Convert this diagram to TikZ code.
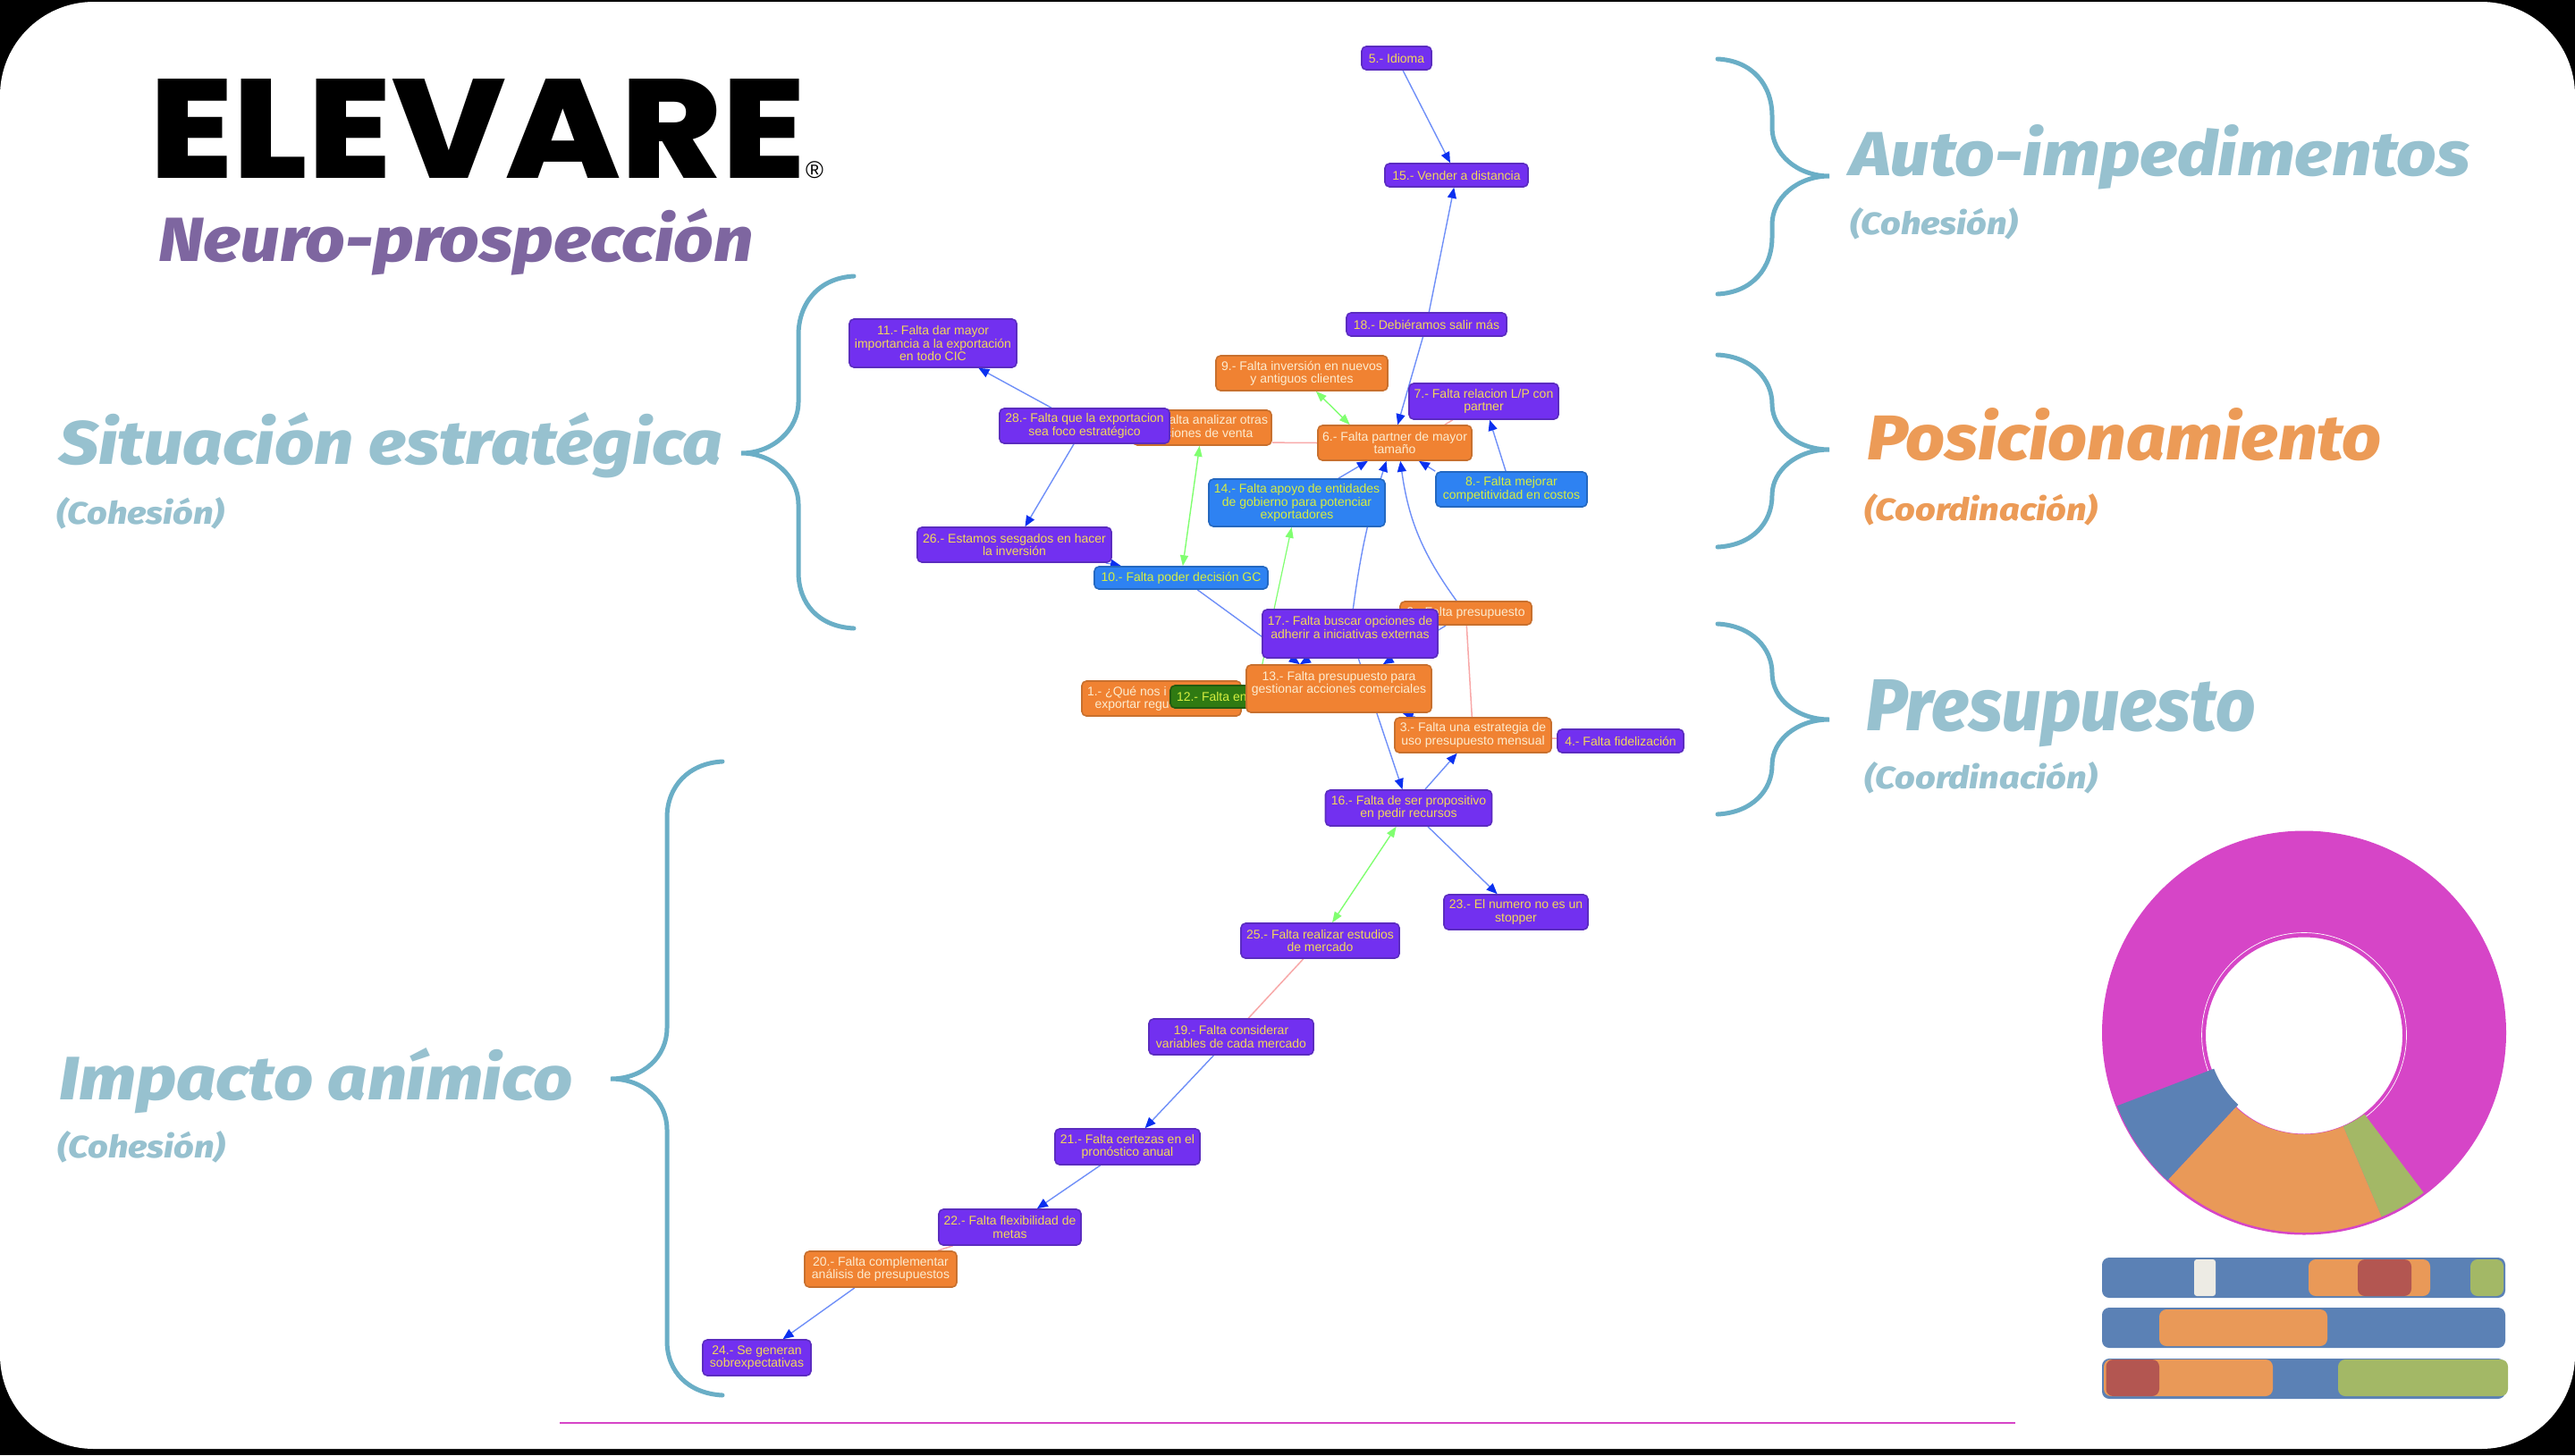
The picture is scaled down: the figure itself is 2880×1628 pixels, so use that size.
\documentclass[tikz,border=0pt]{standalone}
\usepackage{fontspec}
\usepackage{graphicx}
\setmainfont{Liberation Sans}
\newfontfamily\titfont{Fira Sans}[BoldItalicFont={* ExtraBold Italic}]
\newfontfamily\logofont{Poppins}[UprightFont=* ExtraBold]
\usetikzlibrary{arrows.meta, backgrounds}
\definecolor{moradof}{HTML}{7230F0}
\definecolor{moradol}{HTML}{5B2CC0}
\definecolor{moradot}{HTML}{F2D75A}
\definecolor{naranjaf}{HTML}{F08232}
\definecolor{naranjal}{HTML}{C8702E}
\definecolor{naranjat}{HTML}{FCEBCF}
\definecolor{azulf}{HTML}{2E82F2}
\definecolor{azull}{HTML}{2468C0}
\definecolor{azult}{HTML}{D6EE40}
\definecolor{verdef}{HTML}{2F7A12}
\definecolor{verdel}{HTML}{235A10}
\definecolor{lineaazul}{HTML}{6F8FF8}
\definecolor{puntaazul}{HTML}{0A30F0}
\definecolor{lineaverde}{HTML}{80FF70}
\definecolor{linearoja}{HTML}{F8A8A8}
\definecolor{llave}{HTML}{6AAEC6}
\definecolor{celeste}{HTML}{97C1CF}
\definecolor{naranjatit}{HTML}{EC9B57}
\definecolor{lila}{HTML}{7E66A0}
\definecolor{dona}{HTML}{D645C7}
\definecolor{secazul}{HTML}{5B81B5}
\definecolor{secnar}{HTML}{E99958}
\definecolor{secver}{HTML}{A3B866}
\definecolor{secroj}{HTML}{B35651}
\definecolor{secbla}{HTML}{EDEBE4}
\tikzstyle{caja}=[%
      rectangle, rounded corners=5pt, line width=1.6pt, inner sep=2pt, align=center,
      font=\fontsize{14}{14.4}\selectfont
]
\tikzstyle{mo}=[caja, draw=moradol, fill=moradof, text=moradot]
\tikzstyle{na}=[caja, draw=naranjal, fill=naranjaf, text=naranjat]
\tikzstyle{az}=[caja, draw=azull, fill=azulf, text=azult]
\tikzstyle{ve}=[caja, draw=verdel, fill=verdef, text=azult]
\tikzstyle{tit}=[anchor=base west, inner sep=0pt, font=\titfont\bfseries\itshape]
\tikzstyle{fl}=[draw=lineaazul, line width=1.4pt, -{Stealth[length=12pt,width=10pt,inset=0pt,color=puntaazul]}]
\tikzstyle{gr}=[draw=lineaverde, line width=1.4pt, {Stealth[length=12pt,width=9pt,inset=0pt,color=lineaverde]}-{Stealth[length=12pt,width=9pt,inset=0pt,color=lineaverde]}]
\tikzstyle{gs}=[draw=lineaverde, line width=1.2pt, -{Stealth[length=12pt,width=9pt,inset=0pt,color=lineaverde]}]
\tikzstyle{ro}=[draw=linearoja, line width=1.5pt]
\tikzstyle{llav}=[draw=llave, line width=5pt, line cap=round]
\tikzstyle{barra}=[rounded corners=8pt]
\begin{document}
\begin{tikzpicture}[x=1pt, y=-1pt]
    % fondo
    \begin{scope}[on background layer]
      \fill[black] (0,0) rectangle (2880,1628);
      \fill[white, rounded corners=105pt] (0,2) rectangle (2880,1621);
    \end{scope}

    % titulos
    \node[anchor=base west, inner sep=0pt] (logo) at (167,199) {\resizebox{733pt}{111pt}{\logofont ELEVARE}};
    \node[inner sep=0pt, font=\fontsize{27}{27}\selectfont] (marca) at (911,190) {®};
    \node[tit, text=lila] (neuro) at (177,292) {\resizebox{665pt}{59pt}{Neuro-prospección}};
    \node[tit, text=celeste] (auto) at (2069,196) {\resizebox{693pt}{57pt}{Auto-impedimentos}};
    \node[tit, text=celeste] (autoc) at (2069,262) {\resizebox{188pt}{30pt}{(Cohesión)}};
    \node[tit, text=naranjatit] (posi) at (2088,514) {\resizebox{575pt}{58pt}{Posicionamiento}};
    \node[tit, text=naranjatit] (posic) at (2085,582) {\resizebox{261pt}{30pt}{(Coordinación)}};
    \node[tit, text=celeste] (pres) at (2087,817) {\resizebox{435pt}{57pt}{Presupuesto}};
    \node[tit, text=celeste] (presc) at (2085,882) {\resizebox{261pt}{30pt}{(Coordinación)}};
    \node[tit, text=celeste] (situ) at (66,519) {\resizebox{742pt}{58pt}{Situación estratégica}};
    \node[tit, text=celeste] (situc) at (63,586) {\resizebox{188pt}{30pt}{(Cohesión)}};
    \node[tit, text=celeste] (impa) at (66,1230) {\resizebox{574pt}{58pt}{Impacto anímico}};
    \node[tit, text=celeste] (impac) at (64,1295) {\resizebox{188pt}{30pt}{(Cohesión)}};

    % llaves
    \draw[llav] (1921,66) .. controls (1960,68) and (1982,95) .. (1982,130) -- (1982,143) .. controls (1982,172) and (2010,197) .. (2046,197)
                .. controls (2010,197) and (1982,222) .. (1982,251) -- (1982,265) .. controls (1982,300) and (1960,327) .. (1921,329);
    \draw[llav] (1921,397) .. controls (1960,399) and (1982,425) .. (1982,452) .. controls (1982,480) and (2010,503) .. (2046,503)
                .. controls (2010,503) and (1982,526) .. (1982,554) .. controls (1982,585) and (1960,610) .. (1921,612);
    \draw[llav] (1921,698) .. controls (1960,700) and (1982,726) .. (1982,753) .. controls (1982,782) and (2010,805) .. (2046,805)
                .. controls (2010,805) and (1982,828) .. (1982,856) .. controls (1982,884) and (1960,909) .. (1921,911);
    \draw[llav] (955,309) .. controls (915,311) and (893,340) .. (893,375) -- (893,450) .. controls (893,480) and (865,507) .. (829,507)
                .. controls (865,507) and (893,534) .. (893,564) -- (893,640) .. controls (893,675) and (915,701) .. (955,703);
    \draw[llav] (808,852) .. controls (770,854) and (746,880) .. (746,915) -- (746,1150) .. controls (746,1182) and (720,1207) .. (683,1207)
                .. controls (720,1207) and (746,1232) .. (746,1264) -- (746,1500) .. controls (746,1535) and (770,1559) .. (808,1561);

    % nodos
    \node[mo, minimum width=78, minimum height=26] (n5) at (1562,65) {5.- Idioma};
    \node[mo, minimum width=160, minimum height=26] (n15) at (1629,196) {15.- Vender a distancia};
    \node[mo, minimum width=179, minimum height=26] (n18) at (1595.5,363) {18.- Debiéramos salir más};
    \node[mo, minimum width=187, minimum height=54] (n11) at (1043.5,384) {11.- Falta dar mayor\\importancia a la exportación\\en todo CIC};
    \node[na, minimum width=192, minimum height=39] (n9) at (1456,417.5) {9.- Falta inversión en nuevos\\y antiguos clientes};
    \node[mo, minimum width=167, minimum height=40] (n7) at (1659.5,449) {7.- Falta relacion L/P con\\partner};
    \node[na, minimum width=155, minimum height=39] (n27) at (1344.5,478.5) {27.- Falta analizar otras\\opciones de venta};
    \node[mo, minimum width=190, minimum height=39] (n28) at (1213,476.5) {28.- Falta que la exportacion\\sea foco estratégico};
    \node[na, minimum width=172, minimum height=39] (n6) at (1560,495.5) {6.- Falta partner de mayor\\tamaño};
    \node[az, minimum width=169, minimum height=39] (n8) at (1690.5,547.5) {8.- Falta mejorar\\competitividad en costos};
    \node[az, minimum width=197, minimum height=53] (n14) at (1450.5,562.5) {14.- Falta apoyo de entidades\\de gobierno para potenciar\\exportadores};
    \node[mo, minimum width=217, minimum height=39] (n26) at (1134.5,609.5) {26.- Estamos sesgados en hacer\\la inversión};
    \node[az, minimum width=194, minimum height=25] (n10) at (1321,646.5) {10.- Falta poder decisión GC};
    \node[na, minimum width=147, minimum height=26] (n2) at (1639.5,686) {2.- Falta presupuesto};
    \node[mo, minimum width=196, minimum height=54] (n17) at (1510,709) {17.- Falta buscar opciones de\\adherir a iniciativas externas\\\mbox{}};
    \node[na, minimum width=178, minimum height=39] (n1) at (1299,781.5) {\makebox[166pt][l]{1.- ¿Qué nos i}\\\makebox[149pt][l]{exportar regu}};
    \node[ve, minimum width=190, minimum height=25] (n12) at (1404,779.5) {\makebox[176pt][l]{12.- Falta en}};
    \node[na, minimum width=207, minimum height=53] (n13) at (1497.5,770.5) {13.- Falta presupuesto para\\gestionar acciones comerciales\\\mbox{}};
    \node[na, minimum width=175, minimum height=39] (n3) at (1647.5,822.5) {3.- Falta una estrategia de\\uso presupuesto mensual};
    \node[mo, minimum width=141, minimum height=26] (n4) at (1812.5,829) {4.- Falta fidelización};
    \node[mo, minimum width=186, minimum height=40] (n16) at (1575.5,904) {16.- Falta de ser propositivo\\en pedir recursos};
    \node[mo, minimum width=161, minimum height=39] (n23) at (1695.5,1020.5) {23.- El numero no es un\\stopper};
    \node[mo, minimum width=177, minimum height=39] (n25) at (1476.5,1052.5) {25.- Falta realizar estudios\\de mercado};
    \node[mo, minimum width=184, minimum height=40] (n19) at (1377,1160) {19.- Falta considerar\\variables de cada mercado};
    \node[mo, minimum width=162, minimum height=40] (n21) at (1261,1283) {21.- Falta certezas en el\\pronóstico anual};
    \node[mo, minimum width=159, minimum height=40] (n22) at (1129.5,1373) {22.- Falta flexibilidad de\\metas};
    \node[na, minimum width=170, minimum height=40] (n20) at (985,1420) {20.- Falta complementar\\análisis de presupuestos};
    \node[mo, minimum width=121, minimum height=40] (n24) at (846.5,1519) {24.- Se generan\\sobrexpectativas};

    % conexiones
    \begin{scope}[on background layer]
    \path (n5) edge[fl] (n15)
          (n18) edge[fl] (n15)
          (n18) edge[fl] (n6.81)
          (n28) edge[fl] (n11)
          (n28) edge[fl] (n26)
          (n26) edge[fl] (n10)
          (n10) edge[gr] (n27)
          (n9.308) edge[gr] (n6.158)
          (n27.348) edge[ro] (n6.west)
          (n7) edge[ro] (n6.20)
          (n8) edge[fl] (n7)
          (n8.north west) edge[fl] (n6.323)
          (n14) edge[fl] (n6.214)
          (n17) edge[fl, bend left=5] (n6.245)
          (n2) edge[fl, bend left=14] (n6.287)
          (n12) edge[gs] (n14)
          (n10) edge[fl] (n13.148)
          (n17) edge[fl] (n13.148)
          (n2) edge[fl] (n13.29)
          (n3) edge[fl] (n13.339)
          (n17) edge[fl] (n16)
          (n16) edge[fl] (n3)
          (n2) edge[ro] (n3)
          (n3) edge[ro] (n4)
          (n16) edge[gr] (n25)
          (n16) edge[fl] (n23)
          (n25) edge[ro] (n19)
          (n19) edge[fl] (n21)
          (n21) edge[fl] (n22)
          (n22) edge[ro] (n20)
          (n20) edge[fl] (n24)
    ;
    \end{scope}

    % linea inferior
    \draw[dona, line width=2.5pt] (626,1592) -- (2254,1592);

    % dona
    \fill[dona, even odd rule] (2577,1155.5) circle[radius=226] (2577,1158.5) circle[radius=110];
    \draw[white, line width=0.7pt] (2577,1158) circle[radius=114.5];
    \begin{scope}[shift={(2577,1157)}]
      \fill[secazul] (159:224) arc[start angle=159, end angle=133, radius=224] -- (133:108) arc[start angle=133, end angle=159, radius=108] -- cycle;
      \fill[secnar] (133:222) arc[start angle=133, end angle=67, radius=222] -- (67:112) arc[start angle=67, end angle=133, radius=112] -- cycle;
      \fill[secver] (67:222) arc[start angle=67, end angle=53, radius=222] -- (53:112) arc[start angle=53, end angle=67, radius=112] -- cycle;
    \end{scope}

    % barras
    \fill[secazul, barra] (2351,1407) rectangle (2802,1452);
    \fill[secbla, rounded corners=3pt] (2454,1409) rectangle (2478,1450);
    \fill[secnar, barra] (2582,1409) rectangle (2718,1450);
    \fill[secroj, barra] (2637,1409) rectangle (2697,1450);
    \fill[secver, barra] (2763,1409) rectangle (2800,1450);
    \fill[secazul, barra] (2351,1463) rectangle (2802,1508);
    \fill[secnar, barra] (2415,1465) rectangle (2603,1506);
    \fill[secazul, barra] (2351,1520) rectangle (2802,1565);
    \fill[secnar, barra] (2353,1521) rectangle (2542,1562);
    \fill[secroj, barra] (2355.5,1521) rectangle (2415,1562);
    \fill[secver, barra] (2615,1521) rectangle (2805,1562);
\end{tikzpicture}
\end{document}
